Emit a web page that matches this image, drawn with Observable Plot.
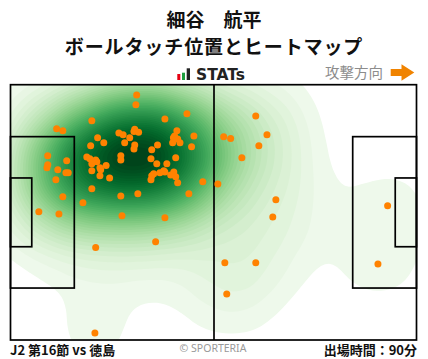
<!DOCTYPE html>
<html><head><meta charset="utf-8">
<script src="https://cdn.jsdelivr.net/npm/d3@7"></script>
<script src="https://cdn.jsdelivr.net/npm/@observablehq/plot@0.6"></script>
<style>
html,body{margin:0;padding:0;background:#fff;}
#wrap{position:relative;width:428px;height:359px;overflow:hidden;font-family:"Noto Sans CJK JP",sans-serif;}
#chart{position:absolute;left:0;top:80px;}
#overlay{position:absolute;left:0;top:0;pointer-events:none;}
</style></head><body>
<div id="wrap"><div id="chart"></div><svg id="overlay" width="428" height="359"></svg></div>
<script>
// Text
const titleLines = ["細谷　航平", "ボールタッチ位置とヒートマップ"];
const brandText = "STATs";
const directionText = "攻撃方向";
const matchText = "J2 第16節 vs 徳島";
const creditText = "© SPORTERIA";
const minutesText = "出場時間：90分";

// Ball touch positions (metres; x along the 105 m pitch, y from the top touchline)
const touchX = [32.5,32.3,20.9,45.5,39.8,11.8,13.4,27.9,29.0,30.7,29.4,32.0,31.8,33.0,32.0,31.8,22.4,24.0,20.6,42.9,47.3,42.3,42.0,43.1,41.8,43.7,46.7,37.9,36.4,36.2,37.7,40.3,42.6,9.5,9.5,9.3,14.4,12.1,14.2,14.8,11.6,13.4,7.2,12.4,19.6,20.4,21.9,22.2,20.9,24.6,23.0,23.2,20.9,25.5,23.0,28.4,28.4,20.9,28.4,32.8,18.6,28.7,39.8,36.9,36.4,36.2,38.5,39.5,39.8,41.3,42.1,42.6,43.1,46.0,49.6,63.3,55.0,56.8,66.2,64.1,59.7,53.5,68.5,67.7,97.4,55.3,63.3,55.8,94.9,21.7,21.9,37.4];
const touchY = [2.6,5.2,9.5,7.6,9.0,11.6,12.1,12.7,13.2,14.0,15.3,11.7,12.3,12.5,15.9,17.0,14.0,15.3,16.1,12.1,13.5,13.5,14.0,14.3,15.3,15.3,16.4,15.9,17.2,19.6,20.9,20.9,19.3,18.8,21.2,22.0,20.1,22.5,23.3,23.3,25.2,29.7,33.7,34.3,19.1,19.6,19.9,20.4,20.9,21.4,22.0,22.5,22.8,24.7,24.1,18.8,19.9,27.6,29.5,28.9,31.3,34.8,35.3,23.6,24.1,25.2,23.3,22.8,23.1,23.9,23.1,24.4,26.0,28.9,25.7,8.2,13.7,14.2,13.2,16.1,19.3,26.3,30.5,35.1,32.1,47.3,47.3,55.6,47.6,66.0,43.2,41.7];

// Pitch dimensions (metres)
const pitchLength = 105, pitchWidth = 68;
const penaltyDepth = 16.5, penaltyWidth = 40.32;
const goalAreaDepth = 5.5, goalAreaWidth = 18.32;

const touches = touchX.map((x, i) => ({x, y: touchY[i]}));
const mid = pitchWidth / 2;
const boxes = [
  {x1: 0, x2: pitchLength, y1: 0, y2: pitchWidth},
  {x1: 0, x2: penaltyDepth, y1: mid - penaltyWidth/2, y2: mid + penaltyWidth/2},
  {x1: 0, x2: goalAreaDepth, y1: mid - goalAreaWidth/2, y2: mid + goalAreaWidth/2},
  {x1: pitchLength - penaltyDepth, x2: pitchLength, y1: mid - penaltyWidth/2, y2: mid + penaltyWidth/2},
  {x1: pitchLength - goalAreaDepth, x2: pitchLength, y1: mid - goalAreaWidth/2, y2: mid + goalAreaWidth/2}
];

const plot = Plot.plot({
  width: 428, height: 264,
  marginLeft: 10.5, marginRight: 11.5, marginTop: 4.7, marginBottom: 4,
  x: {domain: [0, pitchLength], axis: null},
  y: {domain: [0, pitchWidth], reverse: true, axis: null},
  color: {type: "pow", exponent: 0.75, scheme: "greens"},
  style: {background: "#fff"},
  marks: [
    Plot.density(touches, {x: "x", y: "y", bandwidth: 33, thresholds: 45, fill: "density", stroke: "none", clip: true}),
    Plot.rect(boxes, {x1: "x1", x2: "x2", y1: "y1", y2: "y2", fill: "none", stroke: "#000", strokeWidth: 1.7}),
    Plot.ruleX([pitchLength / 2], {y1: 0, y2: pitchWidth, stroke: "#000", strokeWidth: 1.7}),
    Plot.dot(touches, {x: "x", y: "y", r: 3.5, fill: "#ff8200", stroke: "none"})
  ]
});
document.getElementById("chart").appendChild(plot);

// Header / footer texts
const ov = d3.select("#overlay");
const cjk = '"Noto Sans CJK JP", sans-serif';
ov.append("text").attr("x", 214).attr("y", 26.5).attr("text-anchor", "middle")
  .attr("font-family", cjk).attr("font-size", 19).attr("font-weight", "bold").attr("fill", "#111").text(titleLines[0]);
ov.append("text").attr("x", 214).attr("y", 54).attr("text-anchor", "middle")
  .attr("font-family", cjk).attr("font-size", 19).attr("font-weight", "bold").attr("letter-spacing", 0.9).attr("fill", "#111").text(titleLines[1]);
// brand icon
ov.append("rect").attr("x", 177.3).attr("y", 74).attr("width", 3).attr("height", 6).attr("fill", "#e60012");
ov.append("rect").attr("x", 182).attr("y", 72.7).attr("width", 3).attr("height", 7.3).attr("fill", "#1e9e3e");
ov.append("rect").attr("x", 186.7).attr("y", 68.3).attr("width", 3.3).attr("height", 11.7).attr("fill", "#222");
ov.append("text").attr("x", 196).attr("y", 80).attr("font-family", '"DejaVu Sans", sans-serif')
  .attr("font-size", 15.5).attr("font-weight", "bold").attr("fill", "#222").text(brandText);
ov.append("text").attr("x", 325).attr("y", 78).attr("font-family", cjk).attr("font-size", 14.5)
  .attr("fill", "#8c8c8c").text(directionText);
ov.append("path").attr("d", "M390.7,69 H401.5 V64.3 L414.3,72.5 L401.5,80.7 V76 H390.7 Z").attr("fill", "#f08300");
// footer
ov.append("text").attr("x", 10).attr("y", 354.5).attr("font-family", cjk).attr("font-size", 13)
  .attr("font-weight", "bold").attr("fill", "#111").text(matchText);
ov.append("text").attr("x", 213).attr("y", 352).attr("text-anchor", "middle").attr("font-family", '"Noto Sans", sans-serif')
  .attr("font-size", 10.5).attr("fill", "#999").text(creditText);
ov.append("text").attr("x", 417).attr("y", 354.5).attr("text-anchor", "end").attr("font-family", cjk).attr("font-size", 13)
  .attr("font-weight", "bold").attr("fill", "#111").text(minutesText);
</script>
</body></html>
